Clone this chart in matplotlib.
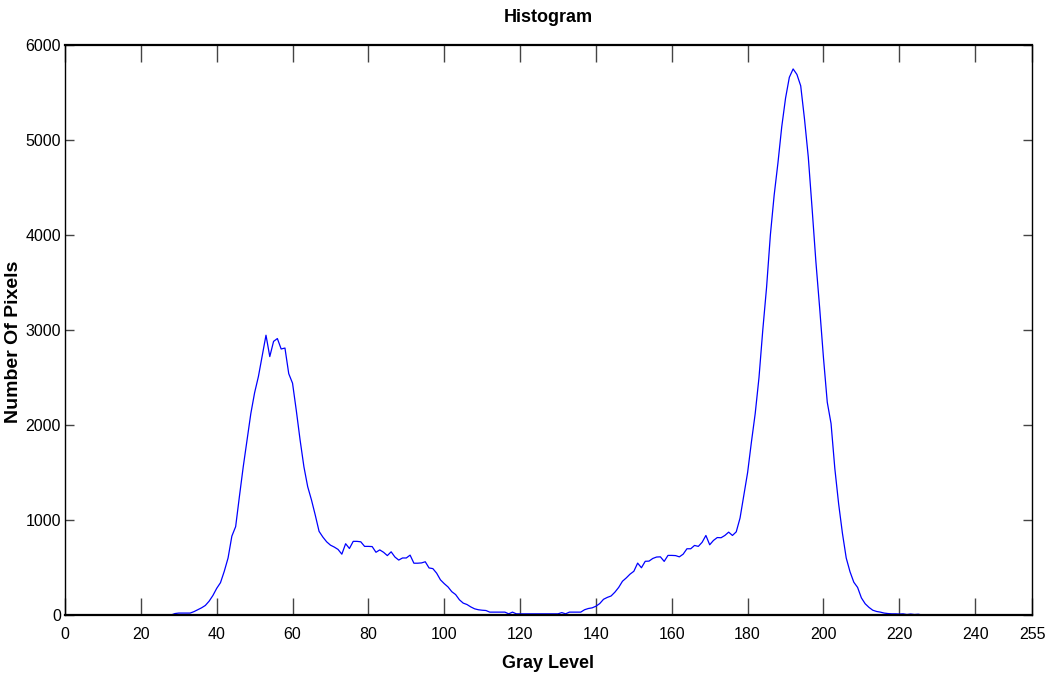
import numpy as np
import matplotlib.pyplot as plt
from matplotlib import font_manager

# pixel counts for each gray level 0..255
gray_levels = np.arange(256)

counts_28_to_112 = [
    0, 15, 20, 20, 20, 20, 35, 55, 75, 100,          # 28-37
    145, 205, 280, 340, 460, 600, 830, 930, 1250, 1560,  # 38-47
    1840, 2120, 2340, 2510, 2730, 2945, 2720, 2880, 2910, 2800,  # 48-57
    2810, 2540, 2440, 2150, 1840, 1560, 1350, 1210, 1050, 880,   # 58-67
    820, 770, 735, 715, 690, 640, 750, 700, 775, 775,    # 68-77
    770, 722, 722, 720, 660, 685, 660, 625, 665, 610,    # 78-87
    578, 600, 600, 630, 545, 545, 548, 560, 495, 488,    # 88-97
    440, 370, 330, 295, 245, 215, 160, 125, 110, 85,     # 98-107
    65, 55, 50, 47, 30,                                  # 108-112
]
counts_113_to_177 = [
    30, 30, 30, 30, 12, 30, 12, 12, 12, 12,              # 113-122
    12, 12, 12, 12, 12, 12, 12, 12, 25, 12,              # 123-132
    30, 30, 30, 30, 55, 68, 75, 92, 120, 165,            # 133-142
    185, 200, 240, 290, 355, 390, 430, 460, 546, 497,    # 143-152
    565, 567, 595, 610, 612, 564, 627, 627, 625, 612,    # 153-162
    640, 697, 697, 732, 722, 765, 837, 739, 785, 815,    # 163-172
    813, 837, 872, 837, 875,                             # 173-177
]
counts_178_to_225 = [
    1020, 1260, 1500, 1820, 2120, 2500, 3000, 3450, 4000, 4420,  # 178-187
    4760, 5140, 5440, 5660, 5748, 5690, 5570, 5220, 4820, 4280,  # 188-197
    3720, 3230, 2707, 2240, 2015, 1540, 1170, 860, 600, 455,     # 198-207
    345, 290, 180, 118, 80, 50, 37, 30, 20, 15,                  # 208-217
    12, 12, 10, 12, 5, 10, 5, 8,                                 # 218-225
]

counts = np.zeros(256)
counts[28:113] = counts_28_to_112
counts[113:178] = counts_113_to_177
counts[178:226] = counts_178_to_225

x_ticks = [0, 20, 40, 60, 80, 100, 120, 140, 160, 180, 200, 220, 240, 255]
y_ticks = [0, 1000, 2000, 3000, 4000, 5000, 6000]

# pick the narrowest sans available, with a size that keeps label widths sensible
names = {f.name for f in font_manager.fontManager.ttflist}
if 'Liberation Sans Narrow' in names:
    narrow, tick_size, lab_size = 'Liberation Sans Narrow', 13.5, 15
elif 'DejaVu Sans Condensed' in names:
    narrow, tick_size, lab_size = 'DejaVu Sans Condensed', 11, 13
else:
    narrow, tick_size, lab_size = 'Liberation Sans', 11.5, 13

fig = plt.figure(figsize=(10.5, 6.83), dpi=100)
ax = fig.add_axes([0.0619, 0.0996, 0.9210, 0.8345])

ax.plot(gray_levels, counts, color='#0000ff', linewidth=0.9)

ax.set_xlim(0, 255)
ax.set_ylim(0, 6000)
ax.set_xticks(x_ticks)
ax.set_yticks(y_ticks)

ax.tick_params(axis='both', direction='in', top=True, right=True,
               color='#444444', width=1.0, labelsize=tick_size)
ax.tick_params(axis='x', length=12.5, pad=9)
ax.tick_params(axis='y', length=6.5, pad=3)
for lab in ax.get_xticklabels() + ax.get_yticklabels():
    lab.set_fontfamily(narrow)

for side in ['top', 'bottom']:
    ax.spines[side].set_linewidth(1.6)
for side in ['left', 'right']:
    ax.spines[side].set_linewidth(1.0)

fig.text(548 / 1050, 1 - 17 / 683, 'Histogram', fontfamily=narrow,
         fontweight='bold', fontsize=lab_size, ha='center', va='center')
fig.text(548 / 1050, 1 - 664 / 683, 'Gray Level', fontfamily=narrow,
         fontweight='bold', fontsize=lab_size, ha='center', va='center')
fig.text(14 / 1050, 1 - 342 / 683, 'Number Of Pixels', fontfamily='Liberation Sans',
         fontweight='bold', fontsize=14, rotation=90, ha='center', va='center')

fig.savefig('out.png', dpi=100)
